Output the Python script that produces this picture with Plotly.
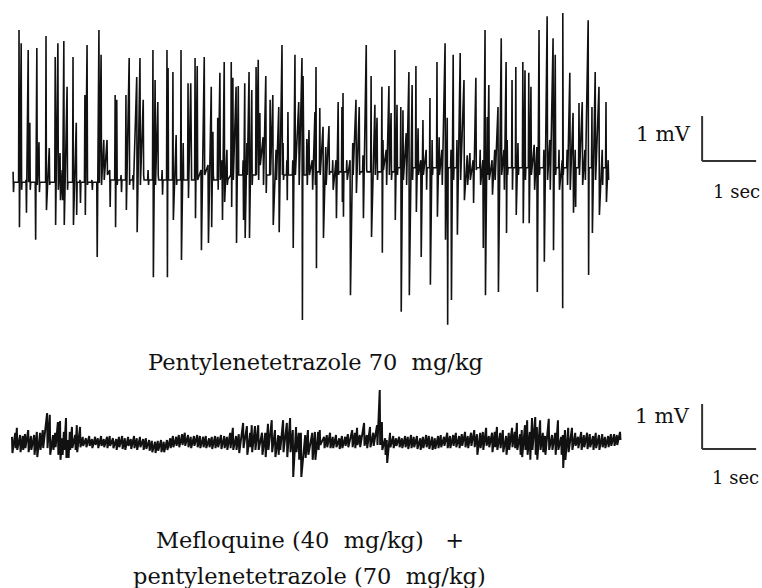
import bisect
import plotly.graph_objects as go

# ---------------- data (time in s, potential in mV) ----------------
# Top trace: Pentylenetetrazole 70 mg/kg  (deflection time, peak, trough)
top_t = [
    0.02, 0.13, 0.17, 0.26, 0.30, 0.33, 0.43, 0.46, 0.50, 0.63,
    0.69, 0.80, 0.85, 0.89, 0.93, 0.96, 1.02, 1.13, 1.19, 1.26,
    1.35, 1.39, 1.48, 1.57, 1.61, 1.65, 1.70, 1.76, 1.81, 1.91,
    1.94, 2.02, 2.11, 2.17, 2.24, 2.31, 2.37, 2.43, 2.52, 2.61,
    2.65, 2.70, 2.78, 2.87, 2.89, 2.98, 3.04, 3.13, 3.17, 3.26,
    3.31, 3.39, 3.43, 3.50, 3.56, 3.63, 3.69, 3.72, 3.81, 3.85,
    3.89, 3.93, 3.98, 4.06, 4.09, 4.15, 4.19, 4.28, 4.31, 4.35,
    4.39, 4.44, 4.52, 4.56, 4.59, 4.65, 4.70, 4.78, 4.83, 4.89,
    4.94, 5.00, 5.02, 5.09, 5.11, 5.20, 5.24, 5.31, 5.37, 5.39,
    5.46, 5.50, 5.56, 5.61, 5.63, 5.70, 5.76, 5.81, 5.87, 5.94,
    6.00, 6.04, 6.11, 6.13, 6.20, 6.26, 6.31, 6.37, 6.43, 6.50,
    6.56, 6.65, 6.72, 6.76, 6.85, 6.87, 6.93, 6.98, 7.02, 7.09,
    7.13, 7.20, 7.24, 7.30, 7.35, 7.41, 7.48, 7.52, 7.57, 7.61,
    7.67, 7.74, 7.78, 7.87, 7.91, 7.96, 8.02, 8.06, 8.13, 8.17,
    8.24, 8.30, 8.37, 8.43, 8.48, 8.54, 8.59, 8.67, 8.72, 8.76,
    8.80, 8.83, 8.89, 8.94, 9.00, 9.06, 9.11, 9.15, 9.17, 9.26,
    9.33, 9.37, 9.46, 9.50, 9.57, 9.61, 9.67, 9.72, 9.76, 9.85,
    9.91, 9.96, 10.02, 10.06, 10.13, 10.19, 10.20, 10.28, 10.33, 10.39,
    10.43, 10.50, 10.56, 10.61, 10.67, 10.74, 10.80, 10.87, 10.93, 11.00,
    11.04,
]
top_peak = [
    0.07, 3.22, 2.93, -0.11, 2.78, 1.16, -0.16, 2.82, 0.73, 3.09,
    0.60, 2.62, 2.93, 0.49, 0.11, 2.98, 1.96, 2.62, 1.16, -0.11,
    1.78, 2.89, -0.11, -0.18, 3.22, 2.67, 0.78, 0.78, 0.11, 1.78,
    1.67, 0.00, 1.78, 2.60, 0.00, 2.18, 2.60, 1.67, 0.11, 2.78,
    2.11, 1.62, 0.11, 2.78, 2.38, 2.29, 0.89, 2.78, 0.71, 2.04,
    2.04, 2.60, 2.42, 0.11, 2.62, 0.22, 1.96, 0.96, 1.27, 2.27,
    0.33, 2.51, 0.56, 2.51, 2.16, 1.96, 1.98, 0.33, 2.04, 0.71,
    2.29, 1.89, 2.40, 2.56, 1.38, 0.84, 2.20, 1.67, 1.78, 0.56,
    1.51, 2.89, 0.71, 0.33, 1.40, 0.33, 2.67, 1.62, 2.60, 2.20,
    0.80, 1.00, 0.33, 1.40, 2.40, 1.49, 1.07, 0.62, 1.09, 0.33,
    0.33, 1.62, 1.51, 1.82, 0.33, 0.33, 0.71, 1.67, 1.51, 0.44,
    2.89, 2.20, 1.56, 1.27, 1.96, 0.78, 0.56, 1.98, 1.38, 2.78,
    1.56, 1.51, 1.44, 0.93, 2.29, 2.00, 2.42, 1.04, 0.33, 1.22,
    0.56, 1.71, 0.78, 2.51, 0.84, 0.56, 2.93, 1.27, 0.56, 2.67,
    0.78, 2.71, 2.11, 0.44, 0.49, 0.33, 2.16, 0.56, 0.33, 3.22,
    1.29, 2.00, 0.33, 0.56, 1.51, 3.04, 0.56, 2.51, 0.78, 2.11,
    2.40, 0.71, 2.51, 2.33, 2.27, 1.96, 0.67, 0.62, 3.22, 0.56,
    3.53, 0.78, 3.04, 2.67, 0.56, 0.33, 3.60, 0.56, 2.27, 1.38,
    0.56, 1.60, 1.62, 0.56, 3.44, 1.51, 2.29, 1.96, 0.56, 1.62,
    0.33,
]
top_trough = [
    -0.38, -1.16, -0.33, -0.84, -0.16, -0.33, -1.44, -0.22, -0.38, -0.78,
    -0.22, -1.11, -0.33, -0.56, -0.56, -1.11, -0.33, -1.11, -0.89, -0.62,
    -0.89, -0.22, -0.33, -1.82, -0.18, -0.22, -0.11, 0.00, -0.71, -1.16,
    -0.22, -0.38, -0.78, -0.22, -0.33, -1.27, -0.22, 0.00, -0.22, -2.27,
    -0.22, 0.00, -0.44, -2.27, -0.11, -1.00, -0.22, -1.89, -0.11, -0.51,
    0.00, -0.96, -0.11, -1.67, 0.00, -1.51, -1.16, 0.00, -0.33, -0.11,
    -1.00, -0.60, -0.22, -0.71, -0.11, -1.51, 0.00, -1.00, -1.40, 0.00,
    -1.40, -0.22, 0.00, -0.11, 0.22, -0.22, -0.40, 0.00, -1.11, -0.11,
    -1.27, 0.00, -0.11, -0.56, 0.00, -1.62, 0.00, -0.22, -3.22, 0.00,
    -0.22, 0.00, -0.33, -0.22, -2.07, 0.00, -1.40, -0.22, 0.00, -0.33,
    -0.96, 0.00, -0.60, -0.93, -0.11, -2.67, 0.00, -0.40, 0.00, -0.96,
    0.11, -1.38, 0.00, -0.11, -1.73, 0.11, -0.22, 0.00, -0.11, -1.00,
    0.00, -3.04, -0.11, -0.22, -2.67, -0.11, -0.82, 0.00, -1.82, 0.00,
    -0.33, -2.44, 0.00, -0.93, 0.00, -0.22, -1.44, -3.33, -2.78, -0.11,
    -1.33, -0.11, -0.56, -0.22, -0.11, -0.62, 0.11, -0.22, -1.62, -2.67,
    0.00, -0.11, -0.44, -0.11, -2.60, 0.00, -0.33, -1.29, 0.00, -0.33,
    -0.89, 0.00, -1.07, -0.11, -1.07, 0.00, -0.33, -2.60, 0.00, -1.93,
    -0.11, -0.33, -1.67, 0.00, -0.33, -2.96, 0.00, -0.22, -0.33, -0.84,
    -0.71, 0.00, -0.22, -0.11, -2.22, -1.29, -0.11, -0.89, -0.22, -0.60,
    -0.11,
]
# resting level of the top trace between widely spaced deflections (segment start s, level mV)
top_base_t = [0.00, 1.60, 4.00, 5.50, 7.10]
top_base_v = [-0.16, -0.11, 0.00, 0.07, 0.16]

# Bottom trace: Mefloquine (40 mg/kg) + pentylenetetrazole (70 mg/kg)
bottom_t = [
    0.00, 0.06, 0.09, 0.15, 0.20, 0.24, 0.30, 0.35, 0.41, 0.46,
    0.52, 0.57, 0.65, 0.70, 0.76, 0.80, 0.85, 0.89, 0.93, 0.96,
    1.00, 1.04, 1.07, 1.11, 1.17, 1.20, 1.26, 1.31, 1.37, 1.43,
    1.48, 1.54, 1.59, 1.65, 1.70, 1.76, 1.81, 1.87, 1.93, 1.98,
    2.04, 2.09, 2.15, 2.20, 2.26, 2.31, 2.37, 2.43, 2.48, 2.54,
    2.59, 2.65, 2.70, 2.76, 2.81, 2.87, 2.93, 2.98, 3.04, 3.09,
    3.15, 3.20, 3.26, 3.31, 3.37, 3.43, 3.48, 3.54, 3.59, 3.65,
    3.70, 3.76, 3.81, 3.87, 3.93, 3.98, 4.04, 4.09, 4.15, 4.20,
    4.28, 4.35, 4.41, 4.44, 4.50, 4.56, 4.63, 4.69, 4.74, 4.81,
    4.87, 4.93, 4.96, 5.02, 5.09, 5.15, 5.20, 5.26, 5.31, 5.35,
    5.43, 5.48, 5.56, 5.61, 5.67, 5.70, 5.78, 5.83, 5.89, 5.94,
    6.00, 6.06, 6.11, 6.17, 6.22, 6.30, 6.35, 6.39, 6.44, 6.52,
    6.57, 6.63, 6.69, 6.76, 6.81, 6.85, 6.91, 6.94, 7.00, 7.06,
    7.11, 7.17, 7.22, 7.28, 7.33, 7.39, 7.44, 7.50, 7.56, 7.61,
    7.67, 7.72, 7.78, 7.83, 7.89, 7.94, 8.00, 8.06, 8.11, 8.17,
    8.22, 8.28, 8.33, 8.39, 8.44, 8.50, 8.56, 8.61, 8.67, 8.72,
    8.78, 8.83, 8.89, 8.94, 8.98, 9.04, 9.09, 9.15, 9.20, 9.26,
    9.31, 9.35, 9.41, 9.44, 9.50, 9.54, 9.59, 9.63, 9.69, 9.72,
    9.78, 9.83, 9.87, 9.94, 10.00, 10.06, 10.11, 10.17, 10.20, 10.24,
    10.30, 10.37, 10.43, 10.48, 10.54, 10.59, 10.65, 10.70, 10.76, 10.81,
    10.87, 10.93, 10.98, 11.04, 11.09, 11.15, 11.20, 11.26,
]
bottom_peak = [
    0.07, 0.16, 0.27, 0.11, 0.09, 0.13, 0.22, 0.09, 0.11, 0.18,
    0.16, 0.22, 0.60, 0.56, 0.11, 0.16, 0.40, 0.42, 0.04, 0.18,
    0.49, 0.00, 0.18, 0.29, 0.11, 0.33, 0.29, 0.07, 0.04, 0.09,
    0.02, 0.07, 0.04, 0.09, 0.02, 0.07, 0.09, 0.04, 0.02, 0.07,
    0.09, 0.04, 0.07, 0.02, 0.09, 0.04, 0.07, 0.02, 0.04, 0.00,
    -0.02, -0.04, -0.02, 0.00, -0.04, 0.00, 0.04, 0.09, 0.07, 0.11,
    0.13, 0.16, 0.11, 0.07, 0.09, 0.11, 0.09, 0.07, 0.09, 0.04,
    0.07, 0.09, 0.07, 0.11, 0.09, 0.07, 0.16, 0.27, 0.09, 0.13,
    0.38, 0.31, 0.16, 0.33, 0.31, 0.33, 0.16, 0.16, 0.36, 0.44,
    0.22, 0.11, 0.09, 0.44, 0.38, 0.49, 0.22, 0.29, 0.16, 0.16,
    0.11, 0.22, 0.16, 0.18, 0.18, 0.22, 0.07, 0.11, 0.16, 0.07,
    0.11, 0.04, 0.09, 0.07, 0.13, 0.22, 0.16, 0.27, 0.11, 0.38,
    0.11, 0.29, 0.16, 0.33, 1.11, 0.40, 0.04, 0.00, 0.16, 0.09,
    0.04, 0.07, 0.04, 0.09, 0.07, 0.11, 0.07, 0.09, 0.04, 0.07,
    0.11, 0.09, 0.07, 0.04, 0.09, 0.11, 0.07, 0.16, 0.09, 0.11,
    0.16, 0.09, 0.13, 0.18, 0.09, 0.16, 0.22, 0.13, 0.16, 0.18,
    0.27, 0.09, 0.16, 0.18, 0.29, 0.16, 0.22, 0.09, 0.16, 0.27,
    0.18, 0.38, 0.13, 0.22, 0.33, 0.44, 0.18, 0.49, 0.51, 0.29,
    0.44, 0.16, 0.09, 0.47, 0.11, 0.16, 0.44, 0.07, 0.11, 0.22,
    0.27, 0.27, 0.16, 0.07, 0.18, 0.11, 0.16, 0.13, 0.09, 0.16,
    0.11, 0.13, 0.07, 0.09, 0.13, 0.13, 0.11, 0.18,
]
bottom_trough = [
    -0.29, -0.18, -0.22, -0.27, -0.22, -0.18, -0.27, -0.22, -0.33, -0.38,
    -0.22, -0.18, -0.18, -0.33, -0.22, -0.16, -0.33, -0.44, -0.33, -0.22,
    -0.40, -0.40, -0.22, -0.18, -0.22, -0.27, -0.16, -0.13, -0.16, -0.13,
    -0.18, -0.11, -0.18, -0.13, -0.16, -0.18, -0.13, -0.18, -0.22, -0.16,
    -0.20, -0.22, -0.13, -0.20, -0.18, -0.22, -0.16, -0.22, -0.20, -0.24,
    -0.27, -0.29, -0.24, -0.27, -0.27, -0.22, -0.18, -0.16, -0.13, -0.16,
    -0.11, -0.13, -0.16, -0.18, -0.13, -0.16, -0.18, -0.16, -0.18, -0.16,
    -0.20, -0.18, -0.16, -0.20, -0.18, -0.22, -0.18, -0.22, -0.22, -0.29,
    -0.18, -0.33, -0.16, -0.27, -0.22, -0.22, -0.33, -0.38, -0.22, -0.27,
    -0.38, -0.33, -0.22, -0.27, -0.38, -0.27, -0.82, -0.27, -0.44, -0.82,
    -0.40, -0.33, -0.44, -0.44, -0.22, -0.11, -0.18, -0.16, -0.18, -0.18,
    -0.16, -0.20, -0.18, -0.13, -0.16, -0.16, -0.18, -0.11, -0.16, -0.13,
    -0.18, -0.16, -0.13, -0.11, -0.11, -0.22, -0.33, -0.51, -0.16, -0.18,
    -0.13, -0.16, -0.18, -0.16, -0.20, -0.18, -0.16, -0.20, -0.22, -0.18,
    -0.16, -0.20, -0.22, -0.20, -0.18, -0.16, -0.13, -0.18, -0.18, -0.13,
    -0.16, -0.18, -0.13, -0.16, -0.18, -0.13, -0.16, -0.33, -0.18, -0.22,
    -0.13, -0.16, -0.27, -0.16, -0.22, -0.18, -0.27, -0.33, -0.22, -0.16,
    -0.18, -0.22, -0.33, -0.38, -0.22, -0.33, -0.44, -0.22, -0.33, -0.44,
    -0.22, -0.27, -0.33, -0.22, -0.22, -0.33, -0.22, -0.33, -0.62, -0.44,
    -0.27, -0.22, -0.13, -0.18, -0.22, -0.16, -0.20, -0.16, -0.22, -0.18,
    -0.22, -0.16, -0.18, -0.16, -0.13, -0.13, -0.11, 0.00,
]

top_label = "Pentylenetetrazole 70&nbsp;&nbsp;mg/kg"
bottom_label_1 = "Mefloquine (40&nbsp; mg/kg)&nbsp;&nbsp; +"
bottom_label_2 = "pentylenetetrazole (70&nbsp;&nbsp;mg/kg)"
bar_v_label = "1 mV"
bar_t_label = "1 sec"

# ---------------- layout constants (pixels) ----------------
W, H = 762, 588
PX_PER_S = 54.0
PX_PER_MV = 45.0
X0_PX = 12.0           # column where t = 0
TOP_ZERO_PX = 175.0    # row of 0 mV, top trace
BOT_ZERO_PX = 440.0    # row of 0 mV, bottom trace
SPIKE_DT = 0.008       # s between successive points of one deflection
REST_GAP = 0.07        # s: gaps at least this long return to the resting level

FONT = "DejaVu Serif"
INK = "#111111"


def spike_trace(t, peak, trough, base_t=None, base_v=None):
    xs, ys = [], []
    n = len(t)
    for i in range(n):
        ti, p, q = t[i], peak[i], trough[i]
        b = None
        if base_t is not None:
            b = base_v[max(0, bisect.bisect_right(base_t, ti) - 1)]
        if b is not None and i > 0 and ti - t[i - 1] >= REST_GAP:
            xs.append(ti - SPIKE_DT)
            ys.append(b)
        xs += [ti, ti + SPIKE_DT]
        ys += [p, q]
        if b is not None and i < n - 1 and t[i + 1] - ti >= REST_GAP:
            xs.append(ti + 2 * SPIKE_DT)
            ys.append(b)
    return xs, ys


fig = go.Figure()
tx, ty = spike_trace(top_t, top_peak, top_trough, top_base_t, top_base_v)
fig.add_trace(go.Scatter(x=tx, y=ty, mode="lines", yaxis="y",
                         line=dict(color=INK, width=1.6), hoverinfo="skip"))
bx, by = spike_trace(bottom_t, bottom_peak, bottom_trough)
fig.add_trace(go.Scatter(x=bx, y=by, mode="lines", yaxis="y2",
                         line=dict(color=INK, width=2.0), hoverinfo="skip"))

# calibration bars: 1 s horizontal, 1 mV vertical
BAR_T0 = 12.78
for yref, v0 in (("y", 0.31), ("y2", -0.20)):
    fig.add_shape(type="line", xref="x", yref=yref, x0=BAR_T0, x1=BAR_T0 + 1.0,
                  y0=v0, y1=v0, line=dict(color="#333333", width=2))
    fig.add_shape(type="line", xref="x", yref=yref, x0=BAR_T0, x1=BAR_T0,
                  y0=v0, y1=v0 + 1.0, line=dict(color="#333333", width=2))


def ann(text, px, py, size):
    fig.add_annotation(text=text, x=px / W, y=1 - py / H,
                       xref="paper", yref="paper", showarrow=False,
                       xanchor="center", yanchor="middle",
                       font=dict(family=FONT, size=size, color=INK))


ann(bar_v_label, 663, 134, 20.5)
ann(bar_t_label, 736, 192, 18)
ann(bar_v_label, 662, 416, 20.5)
ann(bar_t_label, 735, 477, 18)
ann(top_label, 315, 362, 22.5)
ann(bottom_label_1, 310, 540, 22.5)
ann(bottom_label_2, 309, 576, 22.5)

x_left = -X0_PX / PX_PER_S
fig.update_layout(
    width=W, height=H,
    margin=dict(l=0, r=0, t=0, b=0),
    paper_bgcolor="white", plot_bgcolor="white",
    showlegend=False,
    xaxis=dict(range=[x_left, x_left + W / PX_PER_S], visible=False, fixedrange=True),
    yaxis=dict(range=[-(H - TOP_ZERO_PX) / PX_PER_MV, TOP_ZERO_PX / PX_PER_MV],
               visible=False, fixedrange=True),
    yaxis2=dict(range=[-(H - BOT_ZERO_PX) / PX_PER_MV, BOT_ZERO_PX / PX_PER_MV],
                overlaying="y", visible=False, fixedrange=True),
)

# the page is exactly the figure's size: drop the browser's default body margin
fig.write_html("out.html", config={"displayModeBar": False},
               post_script="document.body.style.margin='0px';"
                           "document.body.style.overflow='hidden';")
